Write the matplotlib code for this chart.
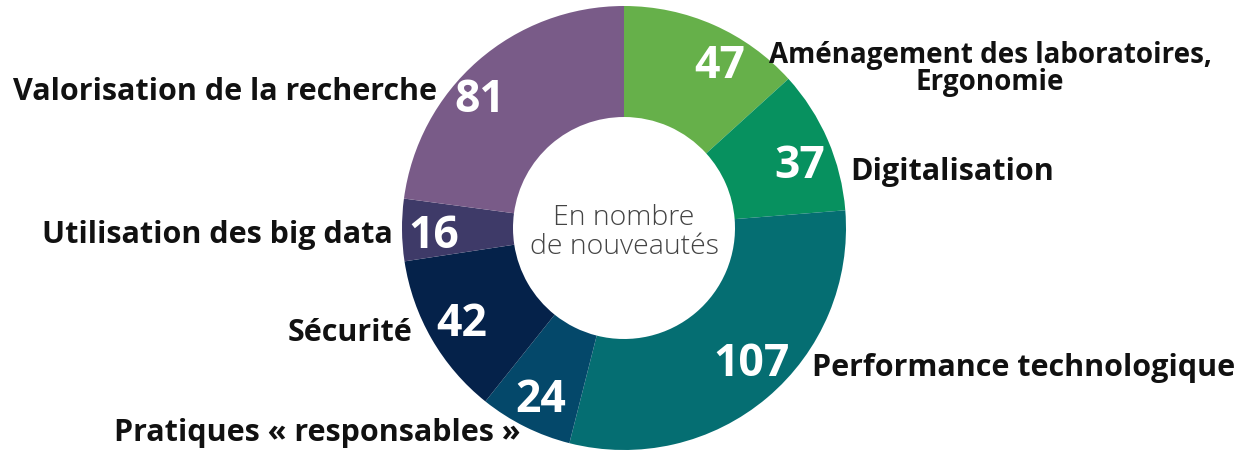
import numpy as np
import matplotlib.pyplot as plt

# Data (clockwise from 12 o'clock)
categories = ["Aménagement des laboratoires,\nErgonomie", "Digitalisation",
              "Performance technologique", "Pratiques « responsables »",
              "Sécurité", "Utilisation des big data", "Valorisation de la recherche"]
values = [47, 37, 107, 24, 42, 16, 81]
colors = ["#66b04a", "#07915f", "#056e72", "#04486a", "#05224a", "#3e3a68", "#795b88"]

plt.rcParams['font.family'] = ['Open Sans', 'DejaVu Sans']

W, H = 1250, 454
cx, cy, R = 624, 228, 222  # pie centre / radius in pixels

fig = plt.figure(figsize=(W / 100, H / 100), dpi=100)
ax = fig.add_axes([(cx - R) / W, (H - cy - R) / H, 2 * R / W, 2 * R / H])
ax.pie(values, colors=colors, startangle=90, counterclock=False, radius=1.0,
       wedgeprops=dict(width=0.5, edgecolor='none'))
ax.set_xlim(-1, 1)
ax.set_ylim(-1, 1)
ax.set_aspect('equal')
ax.axis('off')


def to_data(px, py):
    return (px - cx) / R, (cy - py) / R


# value labels inside the ring (pixel anchors)
value_pos = [(720, 66), (800, 166), (752, 365), (541, 401), (462, 325), (434, 236), (480, 101)]
for v, (px, py) in zip(values, value_pos):
    x, y = to_data(px, py)
    ax.text(x, y, str(v), color='white', fontsize=32, fontweight='bold',
            ha='center', va='center', clip_on=False)

# category labels outside the ring
cat_pos = [(990, 69, 'center', 20), (850, 172, 'left', 22), (812, 368, 'left', 22),
           (520, 433, 'right', 22), (412, 333, 'right', 22), (393, 235, 'right', 22),
           (437, 92, 'right', 22)]
for c, (px, py, ha, fs) in zip(categories, cat_pos):
    x, y = to_data(px, py)
    ax.text(x, y, c, color='#111111', fontsize=fs, fontweight='bold', ha=ha, va='center',
            multialignment='center', linespacing=0.9, clip_on=False)

ax.text(0, -0.02, "En nombre\nde nouveautés", color='#444444', fontsize=20.5, fontweight='light',
        ha='center', va='center', linespacing=1.05)

fig.savefig('out.png', dpi=100, facecolor='white')
